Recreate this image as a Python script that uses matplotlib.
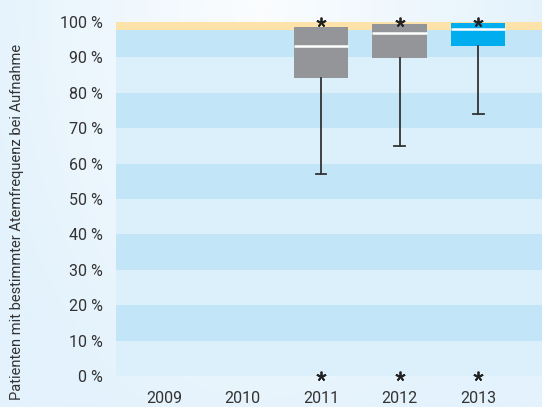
import numpy as np
import matplotlib
matplotlib.use("Agg")
import matplotlib.pyplot as plt

years = ["2009", "2010", "2011", "2012", "2013"]
# box statistics (percent); None for years without data
q1 = [None, None, 84.2, 89.9, 93.3]
med = [None, None, 93.3, 96.8, 98.0]
q3 = [None, None, 98.6, 99.4, 99.7]
whislo = [None, None, 57.0, 65.0, 74.1]
whishi = [None, None, 98.6, 99.4, 99.7]
outliers = [[], [], [0.0, 100.0], [0.0, 100.0], [0.0, 100.0]]
box_colors = ["#939598", "#939598", "#939598", "#939598", "#00aeef"]
yticks = [0, 10, 20, 30, 40, 50, 60, 70, 80, 90, 100]
target_low = 97.8

plt.rcParams["font.family"] = ["Roboto", "DejaVu Sans"]

W, H = 542, 407
fig = plt.figure(figsize=(W / 100, H / 100), dpi=100)

# background gradient
bg = fig.add_axes([0, 0, 1, 1], zorder=-10)
xx = np.linspace(0, 1, 300)
yy = np.linspace(0, 1, 200)
X, Y = np.meshgrid(xx, yy)
d = np.clip(np.sqrt(((X - 0.48) / 0.55) ** 2 + ((Y - 0.0) / 1.2) ** 2), 0, 1)
c0 = np.array([0xfb, 0xfd, 0xff]) / 255
c1 = np.array([0xe3, 0xf2, 0xfc]) / 255
img = c0[None, None, :] * (1 - d[..., None]) + c1[None, None, :] * d[..., None]
bg.imshow(img, aspect="auto", extent=[0, 1, 0, 1], origin="upper")
bg.set_axis_off()

left = 115.7 / W
bottom = (H - 376) / H
top = (H - 22) / H
ax = fig.add_axes([left, bottom, 1 - left, top - bottom])
ax.patch.set_alpha(0)

pos = np.arange(len(years))
ax.set_xlim(-0.615, 4.815)
ax.set_ylim(0, 100)

# bands
for i in range(10):
    lo, hi = i * 10, (i + 1) * 10
    col = "#c2e6f8" if i % 2 == 1 else "#dbf0fb"
    ax.axhspan(lo, hi, color=col, lw=0, zorder=0)
ax.axhspan(target_low, 100, color="#fde2aa", lw=0, zorder=0.5)

stats = []
spos = []
scol = []
for i in range(len(years)):
    if q1[i] is None:
        continue
    stats.append(dict(q1=q1[i], med=med[i], q3=q3[i], whislo=whislo[i],
                      whishi=whishi[i], fliers=[], label=years[i]))
    spos.append(pos[i])
    scol.append(box_colors[i])

bp = ax.bxp(stats, positions=spos, widths=0.70, patch_artist=True,
            showfliers=False, manage_ticks=False,
            boxprops=dict(linewidth=0),
            medianprops=dict(color="white", linewidth=1.8),
            whiskerprops=dict(color="#333333", linewidth=1.3),
            capprops=dict(color="#333333", linewidth=1.3),
            capwidths=0.14)
for patch, c in zip(bp["boxes"], scol):
    patch.set_facecolor(c)
    patch.set_zorder(2)
for k, cap in enumerate(bp["caps"]):
    if k % 2 == 1:
        cap.set_visible(False)
for m in bp["medians"]:
    m.set_zorder(3)

for i in range(len(years)):
    for v in outliers[i]:
        ax.plot([pos[i]], [v], ls="none", marker=(5, 2, 0), ms=7, mew=1.3,
                color="#222222", clip_on=False, zorder=5)

ax.set_xticks(pos)
ax.set_xticklabels(years)
ax.set_yticks(yticks)
ax.set_yticklabels([f"{t} %" for t in yticks])
ax.tick_params(axis="both", length=0, labelsize=11.5, colors="#333333")
ax.tick_params(axis="y", pad=9)
ax.tick_params(axis="x", pad=11)
for s in ax.spines.values():
    s.set_visible(False)

fig.text(17 / W, 1 - 222 / H, "Patienten mit bestimmter Atemfrequenz bei Aufnahme",
         rotation=90, ha="center", va="center", fontsize=10.5, color="#333333")

fig.savefig("out.png", dpi=100)
